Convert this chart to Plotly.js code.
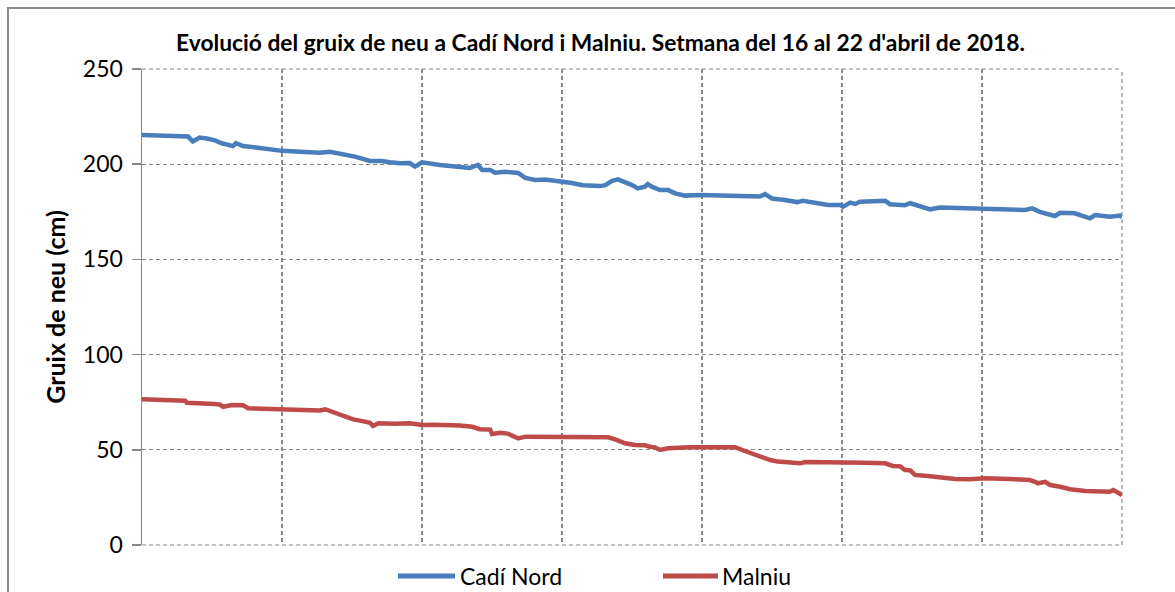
<!DOCTYPE html>
<html>
<head>
<meta charset="utf-8">
<script src="https://cdn.plot.ly/plotly-3.0.1.min.js"></script>
<style>
  html, body { margin: 0; padding: 0; background: #fff; overflow: hidden; }
  #frame { position: absolute; left: 7px; top: 7px; width: 1300px; height: 700px; border: 2px solid #8c8c8c; box-sizing: border-box; pointer-events: none; z-index: 5; }
  #chart { position: absolute; left: 0; top: 0; width: 1175px; height: 592px; }
</style>
</head>
<body>
<div id="chart"></div>
<div id="frame"></div>
<script>
// Hours since 16 April 2018 00:00 and snow depth (cm)
const cadiHours = [0, 3.1, 6.9, 7.9, 8.7, 9.9, 11.1, 12.5, 13.7, 14.7, 15.6, 16.1, 17.3, 20.2, 24.0, 27.1, 30.5, 32.2, 34.8, 36.5, 39.1, 41.1, 42.5, 44.2, 45.9, 46.8, 48.0, 49.4, 51.1, 54.5, 56.2, 57.6, 58.3, 59.7, 60.5, 62.2, 64.5, 65.7, 67.4, 69.1, 71.7, 73.4, 75.6, 78.5, 79.4, 80.6, 81.6, 82.8, 84.0, 85.0, 86.2, 86.7, 87.4, 88.8, 90.2, 91.4, 93.1, 95.7, 99.1, 103.4, 105.9, 106.8, 108.0, 110.2, 112.3, 113.3, 115.4, 117.6, 119.7, 120.2, 121.4, 122.2, 123.1, 126.5, 127.4, 128.2, 130.8, 131.7, 133.4, 135.1, 136.8, 141.9, 147.1, 151.4, 152.6, 153.9, 156.5, 157.4, 159.9, 161.7, 162.5, 163.4, 165.9, 167.7, 168];
const cadiDepth = [215.3, 215, 215, 214.5, 212, 214, 213.5, 212.5, 211, 210, 209.5, 211, 209.5, 208.5, 207, 206.5, 206, 206.5, 205, 204, 201.7, 201.7, 201, 200.5, 200.6, 198.7, 201, 200.6, 199.6, 198.5, 198, 199.6, 197, 197, 195.5, 196, 195.4, 192.8, 191.7, 192, 191.3, 190.3, 189, 188.5, 189, 191.3, 192, 190.8, 189, 187.3, 188.2, 189.6, 188.2, 186.4, 186.4, 184.7, 183.5, 183.8, 183.6, 183.3, 183, 184.3, 182, 181.2, 180.1, 180.8, 179.8, 178.6, 178.6, 177.7, 179.8, 179.1, 180.3, 180.3, 180.8, 179, 178.5, 179.5, 177.7, 176.3, 177.3, 176.8, 176.8, 176, 176.8, 175, 172.8, 174.5, 174.2, 172.4, 171.6, 173.3, 172.4, 173, 172];

const malniuHours = [0, 6.5, 7.4, 7.7, 9.9, 12.5, 13.4, 13.9, 15.4, 17.3, 18.2, 21.9, 24, 27.1, 30.5, 31.4, 32.2, 33.1, 34.8, 36.2, 38.2, 39.1, 39.6, 40.5, 43.4, 45.9, 48, 50.2, 54.5, 56.6, 57.9, 59.7, 60, 61.4, 62.7, 63.6, 64.5, 65.7, 68.2, 72, 79.9, 81.1, 82.8, 84.5, 86.2, 87.1, 87.9, 88.8, 90.2, 93.9, 98.2, 101.7, 102.9, 104.2, 105.9, 107.7, 109, 111.1, 112.8, 113.7, 117.9, 123.9, 127.4, 128.7, 130, 130.8, 131.7, 132.5, 134.7, 136.8, 139.4, 141.9, 144.5, 148.8, 152.2, 153.1, 153.6, 154.8, 155.7, 157.4, 159.1, 161.7, 164.2, 165.9, 166.5, 167.3, 168];
const malniuDepth = [76.5, 75.8, 75.8, 74.7, 74.6, 74, 73.7, 72.6, 73.5, 73.4, 71.8, 71.3, 71.3, 70.9, 70.7, 71.3, 70.4, 69.2, 67.4, 66, 64.8, 64.2, 62.5, 63.9, 63.7, 63.9, 63, 63.2, 62.8, 62.1, 60.8, 60.6, 58.3, 59, 58.5, 57.2, 56, 56.9, 56.9, 56.6, 56.6, 55.5, 53.4, 52.5, 52.4, 51.6, 51.3, 49.9, 50.8, 51.3, 51.6, 51.3, 49.9, 48.5, 46.4, 44.6, 43.8, 43.3, 42.9, 43.6, 43.6, 43.2, 42.9, 41.5, 41.3, 39.4, 39.2, 36.8, 36.2, 35.3, 34.7, 34.5, 35, 34.7, 34.1, 33.2, 32.4, 33.2, 31.5, 30.6, 29.3, 28.4, 28, 28, 28.9, 27.7, 26.3];

const seriesNames = ['Cadí Nord', 'Malniu'];
const seriesColors = ['#4a7ebb', '#be4b48'];
const yTicks = [0, 50, 100, 150, 200, 250];
const titleText = "Evolució del gruix de neu a Cadí Nord i Malniu. Setmana del 16 al 22 d'abril de 2018.";
const yTitle = 'Gruix de neu (cm)';

const FONT = 'Lato, "Open Sans", sans-serif';
const gridCol = '#888888';
const DASH = '4px,3px';

const traces = [
  { x: cadiHours, y: cadiDepth, name: seriesNames[0], type: 'scatter', mode: 'lines',
    line: { color: seriesColors[0], width: 4.5 } },
  { x: malniuHours, y: malniuDepth, name: seriesNames[1], type: 'scatter', mode: 'lines',
    line: { color: seriesColors[1], width: 4.5 } }
];

// edge gridlines (Plotly drops those at the range ends) and legend samples
const edgeLine = (x0, y0, x1, y1) => ({ type: 'line', xref: 'paper', yref: 'paper', x0, y0, x1, y1,
  line: { color: gridCol, width: 1.2, dash: DASH }, layer: 'below' });
const shapes = [
  edgeLine(0, 1, 1, 1),
  edgeLine(0, 0, 1, 0),
  edgeLine(1, 0, 1, 1),
  { type: 'line', xref: 'paper', yref: 'paper', x0: 0.2612, x1: 0.3194, y0: -0.0651, y1: -0.0651,
    line: { color: seriesColors[0], width: 5 } },
  { type: 'line', xref: 'paper', yref: 'paper', x0: 0.5316, x1: 0.5878, y0: -0.0651, y1: -0.0651,
    line: { color: seriesColors[1], width: 5 } }
];
const annotations = [
  { xref: 'paper', yref: 'paper', x: 0.3225, y: -0.0651, xanchor: 'left', yanchor: 'middle', showarrow: false,
    text: seriesNames[0], font: { family: FONT, size: 23, color: '#000' } },
  { xref: 'paper', yref: 'paper', x: 0.5898, y: -0.0651, xanchor: 'left', yanchor: 'middle', showarrow: false,
    text: seriesNames[1], font: { family: FONT, size: 23, color: '#000' } }
];

const layout = {
  width: 1175, height: 592,
  margin: { l: 142, r: 53, t: 69, b: 47, pad: 0 },
  paper_bgcolor: '#ffffff', plot_bgcolor: '#ffffff',
  font: { family: FONT, color: '#000', size: 18 },
  title: { text: '<b>' + titleText + '</b>', font: { family: FONT, size: 22.8, color: '#000' },
           x: 0.511, xanchor: 'center', y: 0.927, yanchor: 'middle' },
  xaxis: { range: [0, 168], tickmode: 'linear', tick0: 0, dtick: 24, showticklabels: false,
           showgrid: true, gridcolor: gridCol, griddash: DASH, gridwidth: 1.2,
           zeroline: false, showline: false, ticks: '' },
  yaxis: { range: [0, 250], tickvals: yTicks, ticktext: yTicks.map(String),
           showgrid: true, gridcolor: gridCol, griddash: DASH, gridwidth: 1.2,
           zeroline: false, showline: true, linecolor: gridCol, linewidth: 1.5,
           ticks: 'outside', ticklen: 9, tickcolor: gridCol, tickwidth: 1.5,
           ticklabelstandoff: 4, tickfont: { family: FONT, size: 23, color: '#000' },
           title: { text: '<b>' + yTitle + '</b>', font: { family: FONT, size: 25, color: '#000' }, standoff: 10 } },
  shapes, annotations,
  showlegend: false
};

Plotly.newPlot('chart', traces, layout, { displayModeBar: false, staticPlot: true });
</script>
</body>
</html>
